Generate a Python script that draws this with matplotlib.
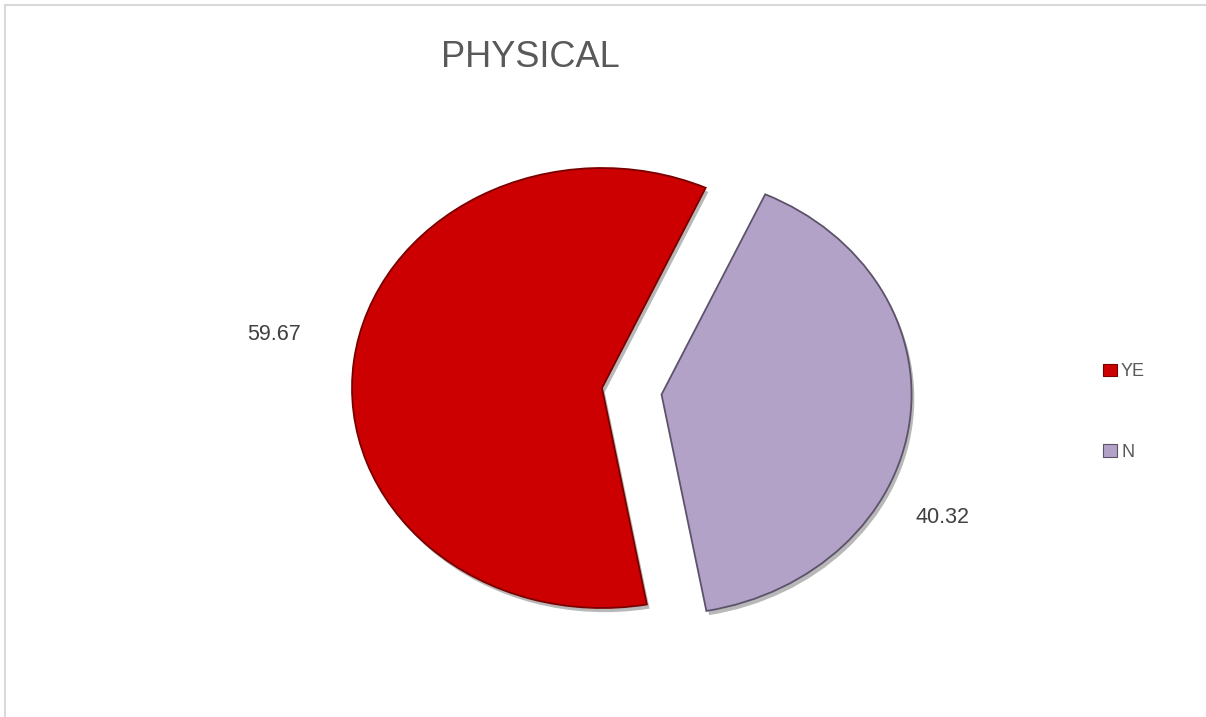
import matplotlib.pyplot as plt
import matplotlib.patheffects as pe
from matplotlib.lines import Line2D

plt.rcParams['font.family'] = ['Liberation Sans', 'DejaVu Sans']

# 数据
labels = ['YE', 'N']
values = [59.67, 40.32]
colors = ['#CC0000', '#B3A2C7']
edges = ['#7a0000', '#5c536b']
title = 'PHYSICAL'

W, H = 1206, 717
fig = plt.figure(figsize=(W / 100, H / 100), dpi=100)
ax = fig.add_axes([0, 0, 1, 1])

# 饼图，N 分离出来
wedges, _ = ax.pie(values, colors=colors, startangle=65.5, explode=[0, 0.24],
                   wedgeprops=dict(linewidth=1.3))
for w, ec in zip(wedges, edges):
    w.set_edgecolor(ec)
    w.set_path_effects([
        pe.SimplePatchShadow(offset=(2, -3), shadow_rgbFace='#000000', alpha=0.28),
        pe.Normal(),
    ])

# 椭圆形的饼 (横向拉伸)
rx, ry = 250, 220
cx, cy = 602, 717 - 388
ax.set_aspect('auto')
ax.set_xlim(-cx / rx, (W - cx) / rx)
ax.set_ylim(-cy / ry, (H - cy) / ry)
ax.axis('off')

# 数值标签
label_pos = [(-1.312, 0.241), (1.36, -0.59)]
for v, (x, y) in zip(values, label_pos):
    ax.text(x, y, f'{v:.2f}', ha='center', va='center', fontsize=15.5, color='#404040')

fig.text(530 / W, 1 - 67 / H, title, ha='center', va='baseline',
         fontsize=26, color='#595959')

leg = ax.legend(wedges, labels, loc='center left',
                bbox_to_anchor=(1094 / W, 1 - 412 / H), bbox_transform=fig.transFigure,
                frameon=False, fontsize=13, labelcolor='#595959',
                handlelength=0.75, handleheight=0.7, handletextpad=0.25,
                labelspacing=3.5, borderpad=0)
for h in leg.legend_handles:
    h.set_path_effects([])
    h.set_linewidth(0.8)

# 外框线
fig.add_artist(Line2D([5 / W, 1], [1 - 5 / H, 1 - 5 / H], color='#d9d9d9', lw=1.5,
                      transform=fig.transFigure))
fig.add_artist(Line2D([5 / W, 5 / W], [0, 1 - 5 / H], color='#d9d9d9', lw=1.5,
                      transform=fig.transFigure))

fig.savefig('out.png', dpi=100)
